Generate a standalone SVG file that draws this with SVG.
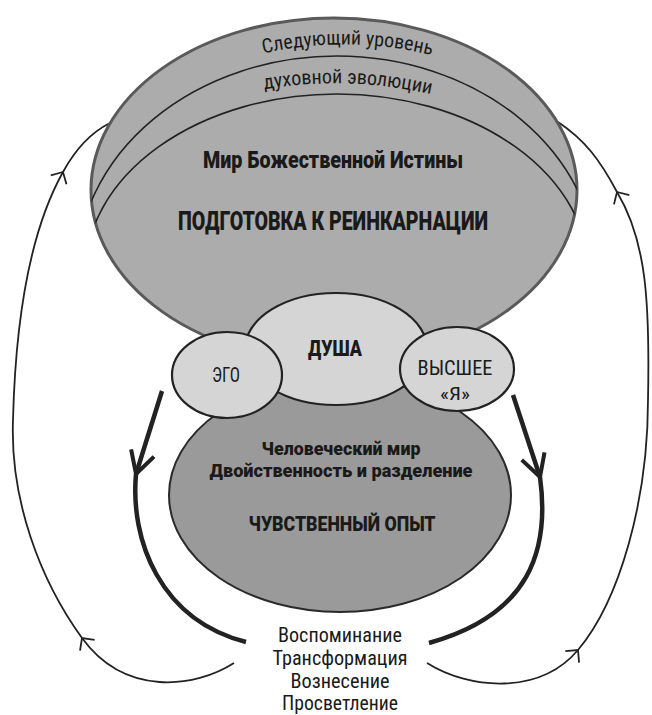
<svg xmlns="http://www.w3.org/2000/svg" width="652" height="715" viewBox="0 0 652 715">
  <style>
    .t { font-family: "Liberation Sans Narrow", "Roboto Condensed", "Liberation Sans", Arial, sans-serif; fill: #1a1a1a; }
    .b { font-family: Roboto, "Liberation Sans", Arial, sans-serif; font-weight: 900; }
    .thin { fill: none; stroke: #222; stroke-width: 1.8; }
    .thick { fill: none; stroke: #222; stroke-width: 4.5; stroke-linecap: butt; }
    .arc { fill: none; stroke: #222; stroke-width: 1.6; }
  </style>
  <defs>
    <clipPath id="topClip">
      <ellipse cx="334" cy="190" rx="243" ry="172"/>
    </clipPath>
    <marker id="ahThin" markerUnits="userSpaceOnUse" viewBox="-14 -12 18 24" markerWidth="18" markerHeight="24" refX="0" refY="0" orient="auto" overflow="visible">
      <path d="M -9 -9 L 0 0 L -9 9" fill="none" stroke="#222" stroke-width="1.8"/>
    </marker>
    <marker id="ahThick" markerUnits="userSpaceOnUse" viewBox="-26 -15 30 30" markerWidth="30" markerHeight="30" refX="0" refY="0" orient="auto" overflow="visible">
      <path d="M -22 -12 L 0 0 L -22 12" fill="none" stroke="#222" stroke-width="4"/>
    </marker>
    <path id="curve1" d="M 245 58 Q 347 30 450 60"/>
    <path id="curve2" d="M 245 93 Q 347 71 450 99"/>
  </defs>

  <g id="connectors">
    <path class="thin" d="M 234 663 C 195 688 125 697 82 638" marker-end="url(#ahThin)"/>
    <path class="thin" d="M 82 638 C 40 580 10 500 13 420 C 15 340 25 240 63 172" marker-end="url(#ahThin)"/>
    <path class="thin" d="M 63 172 C 75 150 90 133 110 123"/>
    <path class="thin" d="M 427 663 C 470 690 540 695 578 650" marker-end="url(#ahThin)"/>
    <path class="thin" d="M 578 650 C 620 600 648 500 648 400 C 650 300 646 240 617 192" marker-end="url(#ahThin)"/>
    <path class="thin" d="M 617 192 C 600 160 585 140 558 122"/>
    <path class="thick" d="M 162 391 L 136 474" marker-end="url(#ahThick)"/>
    <path class="thick" d="M 136 474 C 130 540 160 620 246 642"/>
    <path class="thick" d="M 513 395 L 540 477" marker-end="url(#ahThick)"/>
    <path class="thick" d="M 540 477 C 550 550 530 615 429 643"/>
  </g>

  <g id="node-top">
    <ellipse cx="334" cy="190" rx="243" ry="172" fill="#acacac" stroke="#5a5a5a" stroke-width="3"/>
    <g clip-path="url(#topClip)">
      <ellipse class="arc" cx="337" cy="272" rx="260" ry="216"/>
      <ellipse class="arc" cx="337" cy="274" rx="252" ry="180"/>
    </g>
    <text class="t" font-size="20"><textPath href="#curve1" startOffset="50%" text-anchor="middle" textLength="170" lengthAdjust="spacingAndGlyphs">Следующий уровень</textPath></text>
    <text class="t" font-size="20"><textPath href="#curve2" startOffset="50%" text-anchor="middle" textLength="168" lengthAdjust="spacingAndGlyphs">духовной эволюции</textPath></text>
    <text class="t b" x="333" y="168" font-size="23" text-anchor="middle" textLength="260" lengthAdjust="spacingAndGlyphs">Мир Божественной Истины</text>
    <text class="t b" x="333" y="230" font-size="26" text-anchor="middle" textLength="310" lengthAdjust="spacingAndGlyphs">ПОДГОТОВКА К РЕИНКАРНАЦИИ</text>
  </g>

  <g id="node-human">
    <ellipse cx="340" cy="495" rx="171" ry="117" fill="#9a9a9a" stroke="#2a2a2a" stroke-width="2"/>
    <text class="t b" x="341" y="455" font-size="19" text-anchor="middle" textLength="159" lengthAdjust="spacingAndGlyphs">Человеческий мир</text>
    <text class="t b" x="341" y="477" font-size="19" text-anchor="middle" textLength="263" lengthAdjust="spacingAndGlyphs">Двойственность и разделение</text>
    <text class="t b" x="342" y="531" font-size="20" text-anchor="middle" textLength="187" lengthAdjust="spacingAndGlyphs">ЧУВСТВЕННЫЙ ОПЫТ</text>
  </g>

  <g id="node-soul">
    <ellipse cx="336" cy="349" rx="91" ry="56" fill="#d5d5d5" stroke="#222" stroke-width="2.2"/>
    <text class="t b" x="335" y="356" font-size="22" text-anchor="middle" textLength="54" lengthAdjust="spacingAndGlyphs">ДУША</text>
  </g>

  <g id="node-ego">
    <ellipse cx="227" cy="375" rx="55" ry="43" fill="#d5d5d5" stroke="#222" stroke-width="2.2"/>
    <text class="t" x="226" y="382" font-size="21" text-anchor="middle" textLength="28" lengthAdjust="spacingAndGlyphs">ЭГО</text>
  </g>

  <g id="node-higher">
    <ellipse cx="457" cy="369" rx="57" ry="42" fill="#d5d5d5" stroke="#222" stroke-width="2.2"/>
    <text class="t" x="455" y="375" font-size="21" text-anchor="middle" textLength="75" lengthAdjust="spacingAndGlyphs">ВЫСШЕЕ</text>
    <text class="t" x="455" y="400" font-size="19" text-anchor="middle" textLength="30" lengthAdjust="spacingAndGlyphs">«Я»</text>
  </g>

  <g id="node-ascension">
    <text class="t" x="340" y="642" font-size="20" text-anchor="middle" textLength="124" lengthAdjust="spacingAndGlyphs">Воспоминание</text>
    <text class="t" x="340" y="665" font-size="20" text-anchor="middle" textLength="135" lengthAdjust="spacingAndGlyphs">Трансформация</text>
    <text class="t" x="340" y="688" font-size="20" text-anchor="middle" textLength="99" lengthAdjust="spacingAndGlyphs">Вознесение</text>
    <text class="t" x="340" y="710" font-size="20" text-anchor="middle" textLength="116" lengthAdjust="spacingAndGlyphs">Просветление</text>
  </g>
</svg>
